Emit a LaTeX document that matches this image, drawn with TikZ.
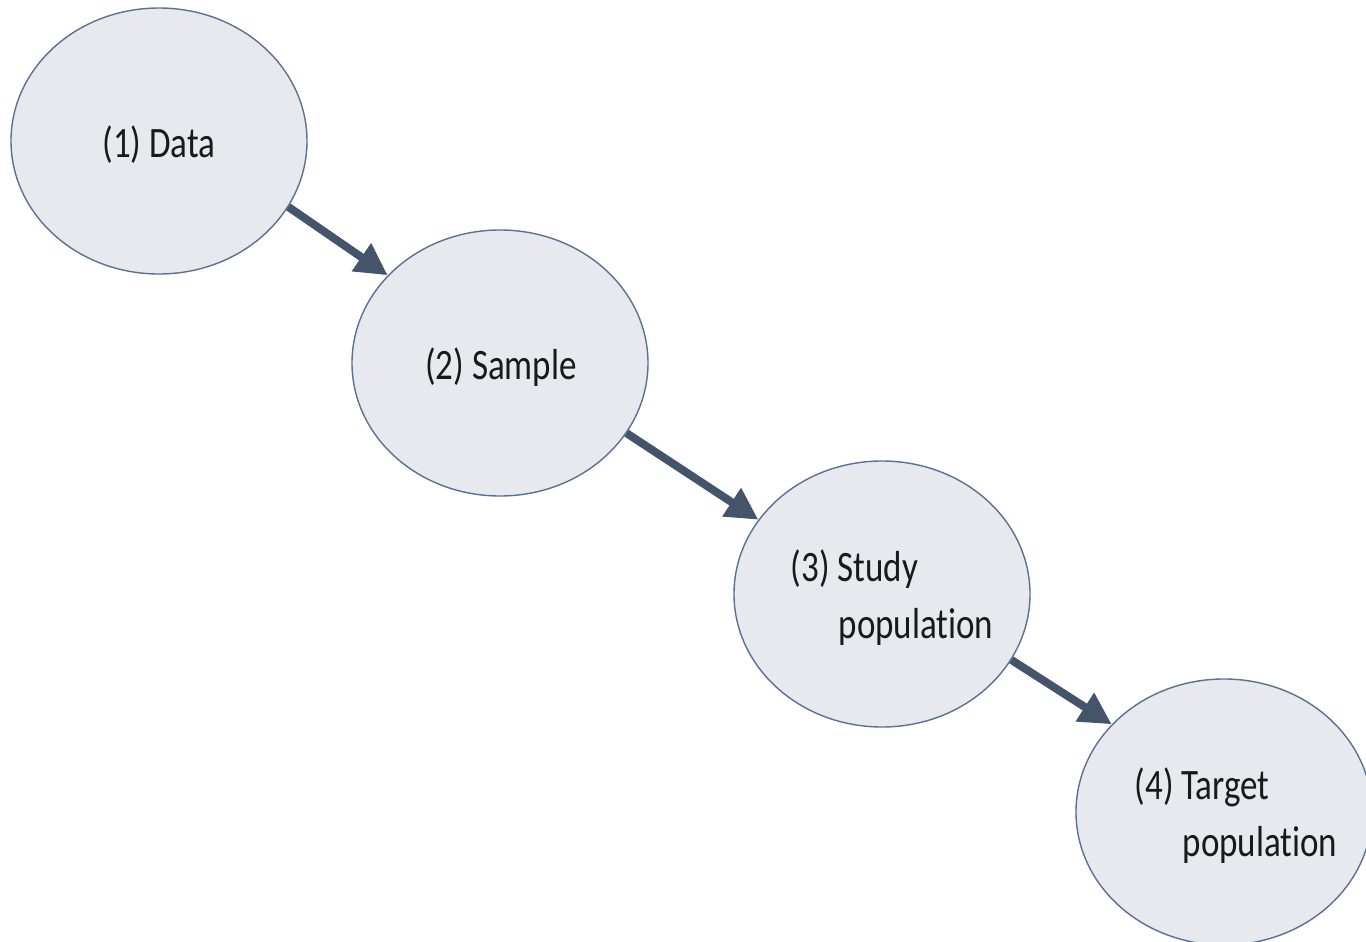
\documentclass[tikz,border=0pt]{standalone}
\usepackage{fontspec}
\usepackage{graphicx}
\setmainfont[Ligatures=NoCommon]{Carlito}
\usetikzlibrary{shapes.geometric,arrows.meta}
\definecolor{ellfill}{RGB}{232,233,238}
\definecolor{elldraw}{RGB}{92,112,145}
\definecolor{arrowcol}{RGB}{68,84,106}
\newcommand\bubbletext[1]{\scalebox{1}[1.24]{\begin{tabular}{@{}l@{}}#1\end{tabular}}}
\tikzset{
  bubble/.style={ellipse, draw=elldraw, fill=ellfill, line width=0.7pt,
    minimum width=148pt, minimum height=133pt, inner sep=0pt},
  bubblelabel/.style={inner sep=0pt, font=\fontsize{17.5pt}{23pt}\selectfont, text=black!90},
  flow/.style={draw=arrowcol, line width=4pt,
    -{Triangle[length=16pt,width=16pt]}}
}
\begin{document}
\begin{tikzpicture}[x=0.5pt,y=-0.5pt]
\useasboundingbox (0,0) rectangle (1366,942);
\clip (0,0) rectangle (1366,942);
\fill[white] (0,0) rectangle (1366,942);
\node[bubble] (e1) at (159,141) {};
\node[bubble] (e2) at (500,363) {};
\node[bubble] (e3) at (882,594) {};
\node[bubble] (e4) at (1224,812) {};
\node[bubblelabel] (l1) at (159,146) {\bubbletext{(1) Data}};
\node[bubblelabel] (l2) at (501,368) {\bubbletext{(2) Sample}};
\node[bubblelabel] (l3) at (892,599) {\bubbletext{(3) Study\\\hspace{24pt}population}};
\node[bubblelabel] (l4) at (1236,817) {\bubbletext{(4) Target\\\hspace{24pt}population}};
\draw[flow] (e1.-27) -- (e2.142);
\draw[flow] (e2.-29) -- (e3.149);
\draw[flow] (e3.-27) -- (e4.142);
\end{tikzpicture}
\end{document}
